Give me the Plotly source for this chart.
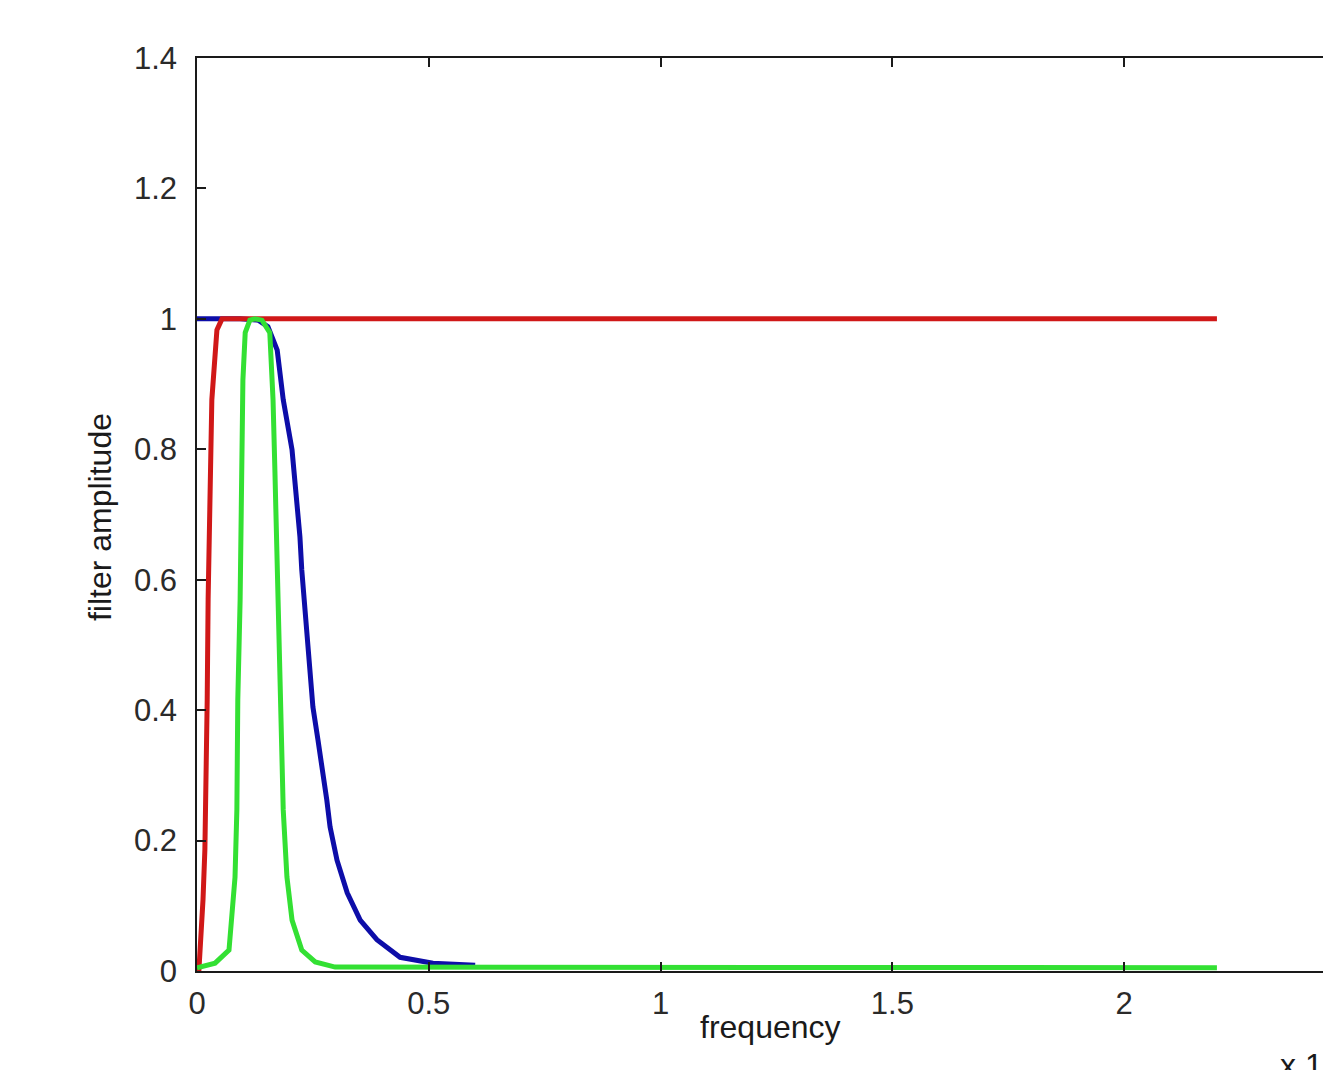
import plotly.graph_objects as go

# frequency in units of 10^4 (the axis shows an "x 10^4" multiplier)
blue_f = [0, 0.093, 0.132, 0.153, 0.173, 0.186, 0.205, 0.216, 0.222, 0.226, 0.233, 0.239,
          0.250, 0.261, 0.272, 0.280, 0.287, 0.302, 0.324, 0.352, 0.388, 0.438, 0.509, 0.600]
blue_a = [1.0, 1.0, 0.998, 0.988, 0.952, 0.876, 0.799, 0.718, 0.666, 0.615, 0.554, 0.512,
          0.405, 0.354, 0.304, 0.262, 0.221, 0.170, 0.120, 0.078, 0.048, 0.021, 0.012, 0.009]

red_f = [0.004, 0.009, 0.013, 0.017, 0.019, 0.022, 0.024, 0.026, 0.030, 0.032, 0.039,
         0.043, 0.054, 1.0, 2.2]
red_a = [0.0, 0.048, 0.11, 0.186, 0.26, 0.416, 0.57, 0.69, 0.80, 0.876, 0.952,
         0.983, 1.0, 1.0, 1.0]

green_f = [0, 0.039, 0.069, 0.075, 0.082, 0.086, 0.088, 0.093, 0.097, 0.099, 0.104, 0.114,
           0.125, 0.140, 0.157, 0.164, 0.168, 0.175, 0.181, 0.186, 0.194, 0.205, 0.226,
           0.255, 0.298, 1.0, 2.2]
green_a = [0.005, 0.012, 0.032, 0.078, 0.144, 0.247, 0.416, 0.569, 0.768, 0.906, 0.979, 0.998,
           1.0, 0.998, 0.979, 0.876, 0.768, 0.569, 0.416, 0.247, 0.144, 0.078, 0.032,
           0.014, 0.006, 0.005, 0.005]

x_ticks = [0, 0.5, 1, 1.5, 2]

FONT = "Liberation Sans, Arial, sans-serif"
INK = "#1a1a1a"

fig = go.Figure()
fig.add_trace(go.Scatter(x=blue_f, y=blue_a, mode="lines",
                         line=dict(color="#0d0da8", width=5), showlegend=False))
fig.add_trace(go.Scatter(x=red_f, y=red_a, mode="lines",
                         line=dict(color="#d01818", width=5), showlegend=False))
fig.add_trace(go.Scatter(x=green_f, y=green_a, mode="lines",
                         line=dict(color="#33e033", width=5), showlegend=False))

fig.update_xaxes(range=[0, 2.4288], tickvals=x_ticks, ticks="inside", ticklen=9,
                 tickwidth=1.5, tickcolor=INK, showline=True, linecolor=INK, linewidth=1.5,
                 mirror="ticks", showgrid=False, zeroline=False, ticklabelstandoff=4,
                 tickfont=dict(size=31, color="#2a2a2a", family=FONT))
fig.update_yaxes(range=[0, 1.4], dtick=0.2, ticks="inside", ticklen=9, tickwidth=1.5,
                 tickcolor=INK, showline=True, linecolor=INK, linewidth=1.5, mirror=False,
                 showgrid=False, zeroline=False, ticklabelstandoff=12,
                 tickfont=dict(size=31, color="#2a2a2a", family=FONT))

# axis titles placed as annotations (the original axes run past the right edge)
fig.add_annotation(text="frequency", xref="x", x=1.238, yref="paper", y=0, yshift=-56,
                   xanchor="center", yanchor="middle", showarrow=False,
                   font=dict(size=32, color=INK, family=FONT))
fig.add_annotation(text="filter amplitude", xref="paper", x=0, xshift=-97, yref="y", y=0.696,
                   textangle=-90, xanchor="center", yanchor="middle", showarrow=False,
                   font=dict(size=32, color=INK, family=FONT))
fig.add_annotation(text="x 10<sup>4</sup>", xref="x", x=2.332, yref="paper", y=0, yshift=-92,
                   xanchor="left", yanchor="middle", showarrow=False,
                   font=dict(size=32, color=INK, family=FONT))

fig.update_layout(width=1323, height=1070, margin=dict(l=197, r=0, t=58, b=99),
                  paper_bgcolor="white", plot_bgcolor="white")

# no body margin, so the figure sits flush with the window edges
fig.write_html("out.html", config={"displayModeBar": False},
               post_script="document.body.style.margin='0';document.body.style.overflow='hidden';")
